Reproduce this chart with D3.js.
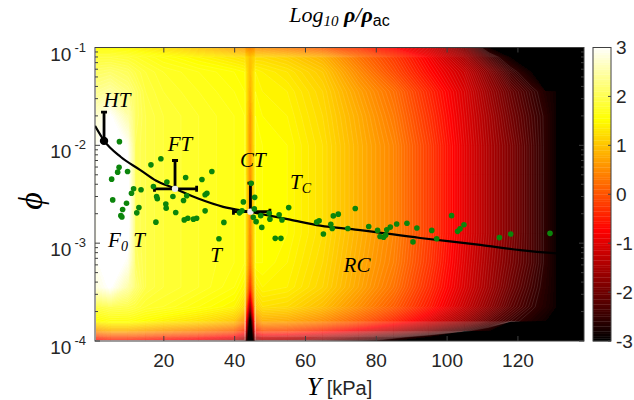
<!DOCTYPE html>
<html>
<head>
<meta charset="utf-8">
<script src="https://cdn.jsdelivr.net/npm/d3@7/dist/d3.min.js"></script>
<style>
  body { margin: 0; background: #fff; }
  text { font-family: "Liberation Sans", Arial, sans-serif; fill: #262626; }
  .math { font-family: "Liberation Serif", "DejaVu Serif", serif; font-style: italic; fill: #000; }
</style>
</head>
<body>
<svg id="chart" width="634" height="400"></svg>
<script>
// log10(rho/rho_ac): columns in Y (kPa), rows in log10(phi), bottom row first.
// -30 marks the black region beyond the colour range.
const gridY = [0.7, 5, 10, 12, 15, 20, 30, 40, 43, 44.5, 46, 48, 55, 65, 75, 85, 95, 105, 112, 118, 124, 128, 131, 134, 138.8];
const gridLogPhi = [-4, -3.96, -3.9, -3.8, -3.65, -3.45, -3.2, -2.9, -2.6, -2.3, -2.0, -1.7, -1.45, -1.25, -1.1, -1];
const fieldRows = [
  [-0.8, -0.6, -0.6, -0.62, -0.7, -0.8, -1.0, -1.3, -1.8, -4, -1.9, -1.5, -1.6, -2.0, -2.4, -2.85, -30, -30, -30, -30, -30, -30, -30, -30, -30],
  [-0.3, -0.1, -0.1, -0.13, -0.2, -0.3, -0.5, -0.8, -1.3, -4, -1.4, -1.1, -1.2, -1.5, -1.95, -2.4, -2.85, -30, -30, -30, -30, -30, -30, -30, -30],
  [0.6, 0.8, 0.8, 0.76, 0.7, 0.6, 0.4, 0.1, -0.4, -4, -0.5, -0.1, -0.15, -0.45, -0.9, -1.4, -1.95, -2.5, -2.85, -30, -30, -30, -30, -30, -30],
  [1.5, 1.6, 1.6, 1.56, 1.5, 1.4, 1.25, 1.0, 0.5, -3.5, 0.4, 0.8, 0.75, 0.5, 0.1, -0.4, -1.0, -1.6, -2.1, -2.45, -2.7, -2.85, -30, -30, -30],
  [1.9, 2.0, 1.95, 1.9, 1.8, 1.75, 1.6, 1.45, 1.2, -1.8, 1.05, 1.25, 1.2, 0.95, 0.55, 0.1, -0.5, -1.2, -1.7, -2.15, -2.5, -2.7, -2.85, -30, -30],
  [2.8, 3.05, 2.5, 2.2, 1.95, 1.85, 1.75, 1.6, 1.45, -0.32, 1.35, 1.45, 1.4, 1.15, 0.75, 0.3, -0.35, -1.05, -1.55, -2.0, -2.4, -2.65, -2.85, -30, -30],
  [2.9, 3.4, 2.9, 2.1, 1.95, 1.85, 1.75, 1.65, 1.6, 0.32, 1.55, 1.55, 1.45, 1.2, 0.8, 0.4, -0.25, -1.0, -1.5, -1.9, -2.3, -2.6, -2.85, -30, -30],
  [2.9, 3.6, 3.2, 2.05, 1.95, 1.85, 1.75, 1.65, 1.6, 0.47, 1.55, 1.55, 1.5, 1.25, 0.85, 0.45, -0.2, -0.95, -1.45, -1.85, -2.3, -2.6, -2.85, -30, -30],
  [2.9, 3.7, 3.25, 2.05, 1.95, 1.85, 1.75, 1.65, 1.6, 0.52, 1.55, 1.55, 1.5, 1.25, 0.85, 0.45, -0.2, -0.95, -1.45, -1.85, -2.3, -2.6, -2.85, -30, -30],
  [2.9, 3.6, 3.15, 2.05, 1.95, 1.85, 1.75, 1.65, 1.6, 0.52, 1.55, 1.55, 1.5, 1.25, 0.85, 0.45, -0.2, -0.95, -1.45, -1.85, -2.3, -2.6, -2.85, -30, -30],
  [2.9, 3.4, 2.95, 2.05, 1.95, 1.85, 1.75, 1.65, 1.6, 0.57, 1.55, 1.55, 1.5, 1.25, 0.85, 0.45, -0.2, -0.95, -1.45, -1.85, -2.3, -2.6, -2.85, -30, -30],
  [2.7, 3.05, 2.5, 2.1, 1.95, 1.85, 1.75, 1.65, 1.6, 0.62, 1.55, 1.5, 1.45, 1.2, 0.8, 0.35, -0.3, -1.0, -1.5, -1.95, -2.35, -2.6, -2.85, -30, -30],
  [2.35, 2.45, 2.25, 2.1, 1.9, 1.8, 1.7, 1.6, 1.55, 0.82, 1.5, 1.45, 1.4, 1.15, 0.7, 0.25, -0.4, -1.05, -1.6, -2.05, -2.45, -2.7, -2.85, -30, -30],
  [2.1, 2.15, 2.05, 1.95, 1.85, 1.75, 1.65, 1.55, 1.5, 0.92, 1.45, 1.4, 1.3, 1.05, 0.5, -0.05, -0.65, -1.2, -1.8, -2.4, -2.85, -30, -30, -30, -30],
  [1.85, 1.85, 1.8, 1.76, 1.7, 1.6, 1.45, 1.3, 1.25, 0.97, 1.2, 1.2, 1.1, 0.85, 0.3, -0.2, -0.8, -1.5, -2.3, -2.85, -30, -30, -30, -30, -30],
  [1.5, 1.5, 1.45, 1.41, 1.35, 1.25, 1.0, 0.7, 0.6, 0.42, 0.55, 0.5, 0.35, 0.05, -0.3, -0.7, -1.15, -1.9, -2.85, -30, -30, -30, -30, -30, -30]
];

// measurements (green dots)
const pointY = [7.6, 19.3, 16.5, 7.5, 7.1, 9.9, 5.4, 33.7, 26.3, 30.9, 21.0, 17.2, 11.6, 13.7, 11.0, 18.1, 18.3, 22.7, 26.6, 32.3,
  31.8, 25.7, 5.7, 9.6, 20.7, 20.8, 13.1, 8.5, 12.5, 23.5, 31.8, 8.0, 8.3, 26.9, 25.9, 29.4, 28.5, 17.9, 37.1, 35.7,
  42.6, 45.8, 44.8, 41.5, 42.2, 45.4, 46.2, 47.8, 49.9, 52.7, 53.5, 55.4, 51.6, 53.2, 47.5, 45.7, 50.1, 63.3, 64.0, 65.2,
  67.3, 67.7, 68.0, 69.4, 72.1, 74.2, 78.0, 80.5, 81.2, 82.2, 82.8, 83.1, 84.1, 85.9, 88.8, 91.6, 90.5, 95.8, 97.2, 101.4,
  103.1, 103.8, 104.9, 114.9, 118.1, 129.2];
const pointPhi = [0.0109, 0.00728, 0.00632, 0.00598, 0.00532, 0.0054, 0.00451, 0.0054, 0.00469, 0.00447, 0.00421, 0.00379, 0.00359, 0.00351, 0.00324, 0.0030, 0.00284, 0.0030, 0.00305, 0.00324,
  0.00312, 0.00273, 0.00277, 0.00256, 0.00251, 0.00228, 0.00231, 0.00221, 0.00204, 0.00206, 0.00214, 0.00191, 0.00185, 0.0018, 0.00173, 0.0018, 0.00176, 0.00164, 0.00163, 0.00111,
  0.00264, 0.00294, 0.0041, 0.00204, 0.00214, 0.00184, 0.00166, 0.00145, 0.00202, 0.00195, 0.00173, 0.00231, 0.00112, 0.00112, 0.00191, 0.00224, 0.00176, 0.00164, 0.00169, 0.00124,
  0.00156, 0.00141, 0.0019, 0.00198, 0.00141, 0.00226, 0.00148, 0.00135, 0.00117, 0.00115, 0.00121, 0.00137, 0.00146, 0.00157, 0.0016, 0.00143, 0.00103, 0.00135, 0.00111, 0.00191,
  0.00132, 0.0014, 0.00154, 0.00114, 0.00124, 0.00126];

// black fitted curve
const fitY = [0.7, 3.3, 8, 13.4, 18, 22.7, 30, 36.9, 44.5, 55.8, 64.3, 75, 92.5, 109.5, 120.8, 132];
const fitPhi = [0.0158, 0.0111, 0.0076, 0.00562, 0.00434, 0.00368, 0.00284, 0.00235, 0.00209, 0.00174, 0.00151, 0.00137, 0.00113, 0.00096, 0.00085, 0.00078];

// error bars at the transition points (HT, FT, CT)
const barY = [3.25, 23.3, 44.6];
const barPhi = [0.0111, 0.00359, 0.0021];
const barPhiTop = [0.0218, 0.0070, 0.0041];
const barYLeft = [null, 17.5, 39.8];
const barYRight = [null, 29.4, 50.1];

// region labels: [text, subscript?] pieces
const labelParts = [[['HT', 0]], [['FT', 0]], [['CT', 0]], [['T', 0], ['C', 1]], [['F', 0], ['0', 1], ['\u00a0T', 0]], [['T', 0]], [['RC', 0]]];
const labelY = [6.9, 24.7, 45.3, 55.8, 4.4, 34.9, 74.7];
const labelPhi = [0.0247, 0.00875, 0.0060, 0.00358, 0.000914, 0.000643, 0.000507];
const labelAnchor = ['middle', 'middle', 'middle', 'start', 'start', 'middle', 'middle'];

const xTicks = [20, 40, 60, 80, 100, 120];
const yDecades = [-4, -3, -2, -1];
const cbTicks = [-3, -2, -1, 0, 1, 2, 3];

const svg = d3.select('#chart');
const plot = { left: 95, right: 584, top: 47.5, bottom: 341 };

const x = d3.scaleLinear().domain([0.7, 138.8]).range([plot.left, plot.right]);
const y = d3.scaleLog().domain([1e-4, 1e-1]).range([plot.bottom, plot.top]);
const hot = d3.scaleLinear()
  .domain([-3, -0.75, 1.5, 3])
  .range(['#000000', '#ff0000', '#ffff00', '#ffffff'])
  .clamp(true);

const defs = svg.append('defs');
defs.append('clipPath').attr('id', 'clip')
  .append('rect')
  .attr('x', plot.left).attr('y', plot.top)
  .attr('width', plot.right - plot.left).attr('height', plot.bottom - plot.top);
// contour lines are left out over the narrow dip at Y ~ 44.5 kPa, where they would pile up
const lineClip = defs.append('clipPath').attr('id', 'lineclip');
lineClip.append('rect')
  .attr('x', plot.left).attr('y', plot.top)
  .attr('width', x(43.2) - plot.left).attr('height', plot.bottom - plot.top);
lineClip.append('rect')
  .attr('x', x(45.8)).attr('y', plot.top)
  .attr('width', plot.right - x(45.8)).attr('height', plot.bottom - plot.top);

const field = svg.append('g').attr('clip-path', 'url(#clip)');

field.append('rect')
  .attr('x', plot.left).attr('y', plot.top)
  .attr('width', plot.right - plot.left).attr('height', plot.bottom - plot.top)
  .attr('fill', '#000');

// contour the grid in index space, then map through the grid positions
const nx = gridY.length, ny = gridLogPhi.length;
const values = [];
fieldRows.forEach(row => row.forEach(v => values.push(v)));

const colAt = d3.scaleLinear().domain(d3.range(nx)).range(gridY).clamp(true);
const rowAt = d3.scaleLinear().domain(d3.range(ny)).range(gridLogPhi).clamp(true);

const gridProjection = d3.geoTransform({
  point(px, py) {
    this.stream.point(x(colAt(px - 0.5)), y(Math.pow(10, rowAt(py - 0.5))));
  }
});
const contourPath = d3.geoPath(gridProjection);

const levels = d3.range(-60, 61).map(i => i / 20);
const bands = d3.contours().size([nx, ny]).thresholds(levels)(values);

// nested fills drawn without anti-aliasing so the many thin edges in the dip do not bleed
field.append('g')
  .attr('shape-rendering', 'crispEdges')
  .selectAll('path')
  .data(bands)
  .join('path')
  .attr('d', contourPath)
  .attr('fill', d => hot(d.value));

field.append('g')
  .attr('clip-path', 'url(#lineclip)')
  .selectAll('path')
  .data(bands.filter(d => d.value > -2.6 && d.value < 3))
  .join('path')
  .attr('d', contourPath)
  .attr('fill', 'none')
  .attr('stroke', 'rgba(255,255,255,0.22)')
  .attr('stroke-width', 0.5);

// fitted curve
const line = d3.line()
  .x(d => x(d[0]))
  .y(d => y(d[1]))
  .curve(d3.curveMonotoneX);

field.append('path')
  .datum(fitY.map((v, i) => [v, fitPhi[i]]))
  .attr('d', line)
  .attr('fill', 'none')
  .attr('stroke', '#000')
  .attr('stroke-width', 2.2);

// error bars
const bars = field.append('g')
  .attr('stroke', '#000')
  .attr('stroke-width', 2.8)
  .attr('fill', 'none');

barY.forEach((by, i) => {
  const cx = x(by), cy = y(barPhi[i]), ty = y(barPhiTop[i]);
  bars.append('line').attr('x1', cx).attr('x2', cx).attr('y1', cy).attr('y2', ty);
  bars.append('line').attr('x1', cx - 3).attr('x2', cx + 3).attr('y1', ty).attr('y2', ty);
  if (barYLeft[i] !== null) {
    const lx = x(barYLeft[i]), rx = x(barYRight[i]);
    bars.append('line').attr('x1', lx).attr('x2', rx).attr('y1', cy).attr('y2', cy);
    bars.append('line').attr('x1', lx).attr('x2', lx).attr('y1', cy - 3).attr('y2', cy + 3);
    bars.append('line').attr('x1', rx).attr('x2', rx).attr('y1', cy - 3).attr('y2', cy + 3);
  }
});

field.append('circle')
  .attr('cx', x(barY[0])).attr('cy', y(barPhi[0]))
  .attr('r', 4.2).attr('fill', '#000');
[1, 2].forEach(i => {
  field.append('circle')
    .attr('cx', x(barY[i])).attr('cy', y(barPhi[i]))
    .attr('r', 3.2).attr('fill', '#ececec');
});

// green measurement points
field.selectAll('circle.pt')
  .data(pointY.map((v, i) => [v, pointPhi[i]]))
  .join('circle')
  .attr('class', 'pt')
  .attr('cx', d => x(d[0]))
  .attr('cy', d => y(d[1]))
  .attr('r', 2.8)
  .attr('fill', '#0b850b');

// region labels
labelParts.forEach((parts, i) => {
  const t = svg.append('text')
    .attr('class', 'math')
    .attr('x', x(labelY[i]))
    .attr('y', y(labelPhi[i]))
    .attr('text-anchor', labelAnchor[i])
    .attr('font-size', 21);
  let shifted = false;
  parts.forEach(([txt, sub]) => {
    const s = t.append('tspan').text(txt);
    if (sub) { s.attr('font-size', 14).attr('dy', 4); shifted = true; }
    else if (shifted) { s.attr('dy', -4); shifted = false; }
  });
});

// axes box and ticks
const axisColor = '#404040';
const xBottom = svg.append('g')
  .attr('transform', `translate(0,${plot.bottom})`)
  .call(d3.axisBottom(x).tickValues(xTicks).tickSizeInner(-5).tickSizeOuter(0).tickPadding(13));
xBottom.select('.domain').remove();
xBottom.selectAll('.tick line').attr('stroke', axisColor);
xBottom.selectAll('.tick text')
  .attr('font-size', 19)
  .attr('font-family', '"Liberation Sans", Arial, sans-serif')
  .attr('fill', '#262626');

const xTop = svg.append('g')
  .attr('transform', `translate(0,${plot.top})`)
  .call(d3.axisTop(x).tickValues(xTicks).tickSizeInner(-5).tickSizeOuter(0).tickFormat(''));
xTop.select('.domain').remove();
xTop.selectAll('.tick line').attr('stroke', axisColor);

const yTickG = svg.append('g').attr('stroke', axisColor).attr('stroke-width', 1);
yDecades.forEach(e => {
  const base = Math.pow(10, e);
  const py = y(base);
  yTickG.append('line').attr('x1', plot.left).attr('x2', plot.left + 5).attr('y1', py).attr('y2', py);
  yTickG.append('line').attr('x1', plot.right).attr('x2', plot.right - 5).attr('y1', py).attr('y2', py);
  if (e < -1) {
    d3.range(2, 10).forEach(k => {
      const my = y(k * base);
      yTickG.append('line').attr('x1', plot.left).attr('x2', plot.left + 3).attr('y1', my).attr('y2', my);
      yTickG.append('line').attr('x1', plot.right).attr('x2', plot.right - 3).attr('y1', my).attr('y2', my);
    });
  }
  const lab = svg.append('text')
    .attr('x', 86)
    .attr('y', py + 13)
    .attr('text-anchor', 'end')
    .attr('font-size', 19);
  lab.append('tspan').text('10');
  lab.append('tspan').attr('font-size', 13).attr('dy', -9).attr('dx', 3).text(String(e));
});

svg.append('rect')
  .attr('x', plot.left).attr('y', plot.top)
  .attr('width', plot.right - plot.left).attr('height', plot.bottom - plot.top)
  .attr('fill', 'none')
  .attr('stroke', axisColor)
  .attr('stroke-width', 1);

// colorbar
const cb = { left: 593, right: 611 };
const cbScale = d3.scaleLinear().domain([-3, 3]).range([plot.bottom, plot.top]);
const cbG = svg.append('g');
cbG.selectAll('rect')
  .data(levels.slice(0, -1))
  .join('rect')
  .attr('x', cb.left)
  .attr('width', cb.right - cb.left)
  .attr('y', d => cbScale(d + 0.05))
  .attr('height', d => cbScale(d) - cbScale(d + 0.05) + 0.3)
  .attr('fill', d => hot(d));
cbG.append('rect')
  .attr('x', cb.left).attr('y', plot.top)
  .attr('width', cb.right - cb.left).attr('height', plot.bottom - plot.top)
  .attr('fill', 'none').attr('stroke', axisColor).attr('stroke-width', 1);
cbTicks.forEach(v => {
  const py = cbScale(v);
  cbG.append('line').attr('x1', cb.right).attr('x2', cb.right - 3).attr('y1', py).attr('y2', py)
    .attr('stroke', axisColor);
  cbG.append('text')
    .attr('x', 616)
    .attr('y', py)
    .attr('dy', '0.35em')
    .attr('font-size', 19)
    .text(v < 0 ? '-' + Math.abs(v) : String(v));
});

// title and axis labels
const title = svg.append('text')
  .attr('class', 'math')
  .attr('x', (plot.left + plot.right) / 2)
  .attr('y', 22)
  .attr('text-anchor', 'middle')
  .attr('font-size', 22);
title.append('tspan').text('Log');
title.append('tspan').attr('font-size', 15).attr('dy', 4).text('10');
title.append('tspan').attr('dy', -4).attr('font-weight', 'bold').text('\u00a0\u03c1');
title.append('tspan').text('/');
title.append('tspan').attr('font-weight', 'bold').text('\u03c1');
title.append('tspan').attr('dy', 4).attr('font-size', 16)
  .attr('font-style', 'normal')
  .attr('font-family', '"Liberation Sans", Arial, sans-serif')
  .text('ac');

svg.append('text')
  .attr('class', 'math')
  .attr('transform', 'translate(42,201) rotate(-90)')
  .attr('text-anchor', 'middle')
  .attr('font-size', 34)
  .text('\u03d5');

const xLabel = svg.append('text')
  .attr('x', (plot.left + plot.right) / 2)
  .attr('y', 395)
  .attr('text-anchor', 'middle');
xLabel.append('tspan').attr('class', 'math').attr('font-size', 26).text('Y');
xLabel.append('tspan').attr('font-size', 20).text('\u00a0[kPa]');
</script>
</body>
</html>
